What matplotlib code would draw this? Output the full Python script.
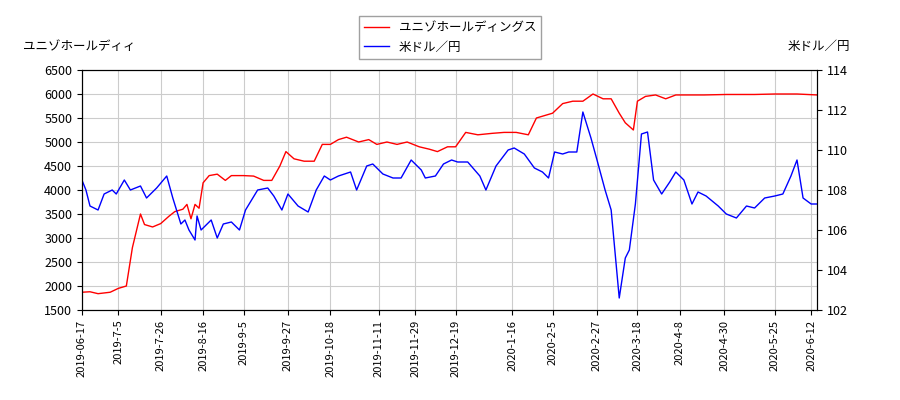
import matplotlib
matplotlib.use('Agg')
import matplotlib.pyplot as plt
import pandas as pd

plt.rcParams['font.family'] = ['Noto Sans CJK JP', 'DejaVu Sans']

stock_dates = ['2019-06-17','2019-06-21','2019-06-25','2019-07-01','2019-07-05','2019-07-09','2019-07-12',
    '2019-07-16','2019-07-18','2019-07-22','2019-07-26','2019-07-30','2019-08-02','2019-08-06','2019-08-08',
    '2019-08-10','2019-08-12','2019-08-14','2019-08-16','2019-08-19','2019-08-23','2019-08-27','2019-08-30',
    '2019-09-05','2019-09-10','2019-09-15','2019-09-19','2019-09-23','2019-09-26','2019-09-30','2019-10-05',
    '2019-10-10','2019-10-14','2019-10-18','2019-10-22','2019-10-26','2019-11-01','2019-11-06','2019-11-10',
    '2019-11-15','2019-11-20','2019-11-25','2019-12-01','2019-12-06','2019-12-10','2019-12-15','2019-12-19',
    '2019-12-24','2019-12-30','2020-01-06','2020-01-12','2020-01-18','2020-01-24','2020-01-28','2020-02-01',
    '2020-02-05','2020-02-10','2020-02-15','2020-02-20','2020-02-25','2020-03-01','2020-03-05','2020-03-09',
    '2020-03-12','2020-03-16','2020-03-18','2020-03-22','2020-03-27','2020-04-01','2020-04-06','2020-04-12',
    '2020-04-20','2020-05-01','2020-05-15','2020-05-25','2020-06-05','2020-06-15']
stock_vals = [1870,1880,1840,1870,1950,2000,2800,3500,3280,3230,3300,3450,3550,3600,3700,3400,3700,3620,
    4150,4300,4330,4200,4300,4300,4290,4200,4200,4500,4800,4650,4600,4600,4950,4950,5050,5100,5000,5050,
    4950,5000,4950,5000,4900,4850,4800,4900,4900,5200,5150,5180,5200,5200,5150,5500,5550,5600,5800,5850,
    5850,6000,5900,5900,5600,5400,5250,5850,5950,5980,5900,5980,5980,5980,5990,5990,6000,6000,5980]

fx_dates = ['2019-06-17','2019-06-19','2019-06-21','2019-06-25','2019-06-28','2019-07-02','2019-07-04',
    '2019-07-08','2019-07-11','2019-07-16','2019-07-19','2019-07-24','2019-07-29','2019-08-01','2019-08-05',
    '2019-08-07','2019-08-09','2019-08-12','2019-08-13','2019-08-15','2019-08-20','2019-08-23','2019-08-26',
    '2019-08-30','2019-09-03','2019-09-06','2019-09-12','2019-09-17','2019-09-20','2019-09-24','2019-09-27',
    '2019-10-02','2019-10-07','2019-10-11','2019-10-15','2019-10-18','2019-10-22','2019-10-28','2019-10-31',
    '2019-11-05','2019-11-08','2019-11-13','2019-11-18','2019-11-22','2019-11-27','2019-12-02','2019-12-04',
    '2019-12-09','2019-12-13','2019-12-17','2019-12-20','2019-12-25','2019-12-31','2020-01-03','2020-01-08',
    '2020-01-14','2020-01-17','2020-01-22','2020-01-27','2020-01-31','2020-02-03','2020-02-06','2020-02-10',
    '2020-02-13','2020-02-17','2020-02-20','2020-02-24','2020-02-27','2020-03-02','2020-03-05','2020-03-09',
    '2020-03-12','2020-03-14','2020-03-17','2020-03-20','2020-03-23','2020-03-26','2020-03-30','2020-04-03',
    '2020-04-06','2020-04-10','2020-04-14','2020-04-17','2020-04-21','2020-04-27','2020-05-01','2020-05-06',
    '2020-05-11','2020-05-15','2020-05-20','2020-05-25','2020-05-29','2020-06-02','2020-06-05','2020-06-08',
    '2020-06-12','2020-06-15']
fx_vals = [108.5,108.0,107.2,107.0,107.8,108.0,107.8,108.5,108.0,108.2,107.6,108.1,108.7,107.6,106.3,106.5,
    106.0,105.5,106.7,106.0,106.5,105.6,106.3,106.4,106.0,107.0,108.0,108.1,107.7,107.0,107.8,107.2,106.9,
    108.0,108.7,108.5,108.7,108.9,108.0,109.2,109.3,108.8,108.6,108.6,109.5,109.0,108.6,108.7,109.3,109.5,
    109.4,109.4,108.7,108.0,109.2,110.0,110.1,109.8,109.1,108.9,108.6,109.9,109.8,109.9,109.9,111.9,110.6,
    109.5,108.0,107.0,102.6,104.6,105.0,107.3,110.8,110.9,108.5,107.8,108.4,108.9,108.5,107.3,107.9,107.7,
    107.2,106.8,106.6,107.2,107.1,107.6,107.7,107.8,108.7,109.5,107.6,107.3,107.3]

tick_dates = ['2019-06-17','2019-07-05','2019-07-26','2019-08-16','2019-09-05','2019-09-27','2019-10-18',
    '2019-11-11','2019-11-29','2019-12-19','2020-01-16','2020-02-05','2020-02-27','2020-03-18','2020-04-08',
    '2020-04-30','2020-05-25','2020-06-12']
tick_labels = ['2019-06-17','2019-7-5','2019-7-26','2019-8-16','2019-9-5','2019-9-27','2019-10-18',
    '2019-11-11','2019-11-29','2019-12-19','2020-1-16','2020-2-5','2020-2-27','2020-3-18','2020-4-8',
    '2020-4-30','2020-5-25','2020-6-12']
left_ticks = [1500, 2000, 2500, 3000, 3500, 4000, 4500, 5000, 5500, 6000, 6500]

fig = plt.figure(figsize=(9, 4), dpi=100)
ax = fig.add_axes([0.091, 0.225, 0.817, 0.6])
ax2 = ax.twinx()
l1, = ax.plot(pd.to_datetime(stock_dates), stock_vals, color='red', lw=1, label='ユニゾホールディングス')
l2, = ax2.plot(pd.to_datetime(fx_dates), fx_vals, color='blue', lw=1, label='米ドル／円')
ax.set_ylim(1500, 6500)
ax.set_yticks(left_ticks)
ax2.set_ylim(102, 114)
ax.set_xlim(pd.Timestamp('2019-06-17'), pd.Timestamp('2020-06-15'))
ax.set_xticks(pd.to_datetime(tick_dates))
ax.set_xticklabels(tick_labels, rotation=90, fontsize=8)
ax.tick_params(axis='y', labelsize=9)
ax2.tick_params(axis='y', labelsize=9)
ax.grid(True, color='#cccccc')
fig.text(0.025, 0.875, 'ユニゾホールディィ', fontsize=9)
fig.text(0.945, 0.875, '米ドル／円', fontsize=9, ha='right')
fig.legend(handles=[l1, l2], loc='upper center', bbox_to_anchor=(0.5, 0.975), fontsize=9,
           fancybox=False, edgecolor='#888888')
fig.savefig('out.png')
